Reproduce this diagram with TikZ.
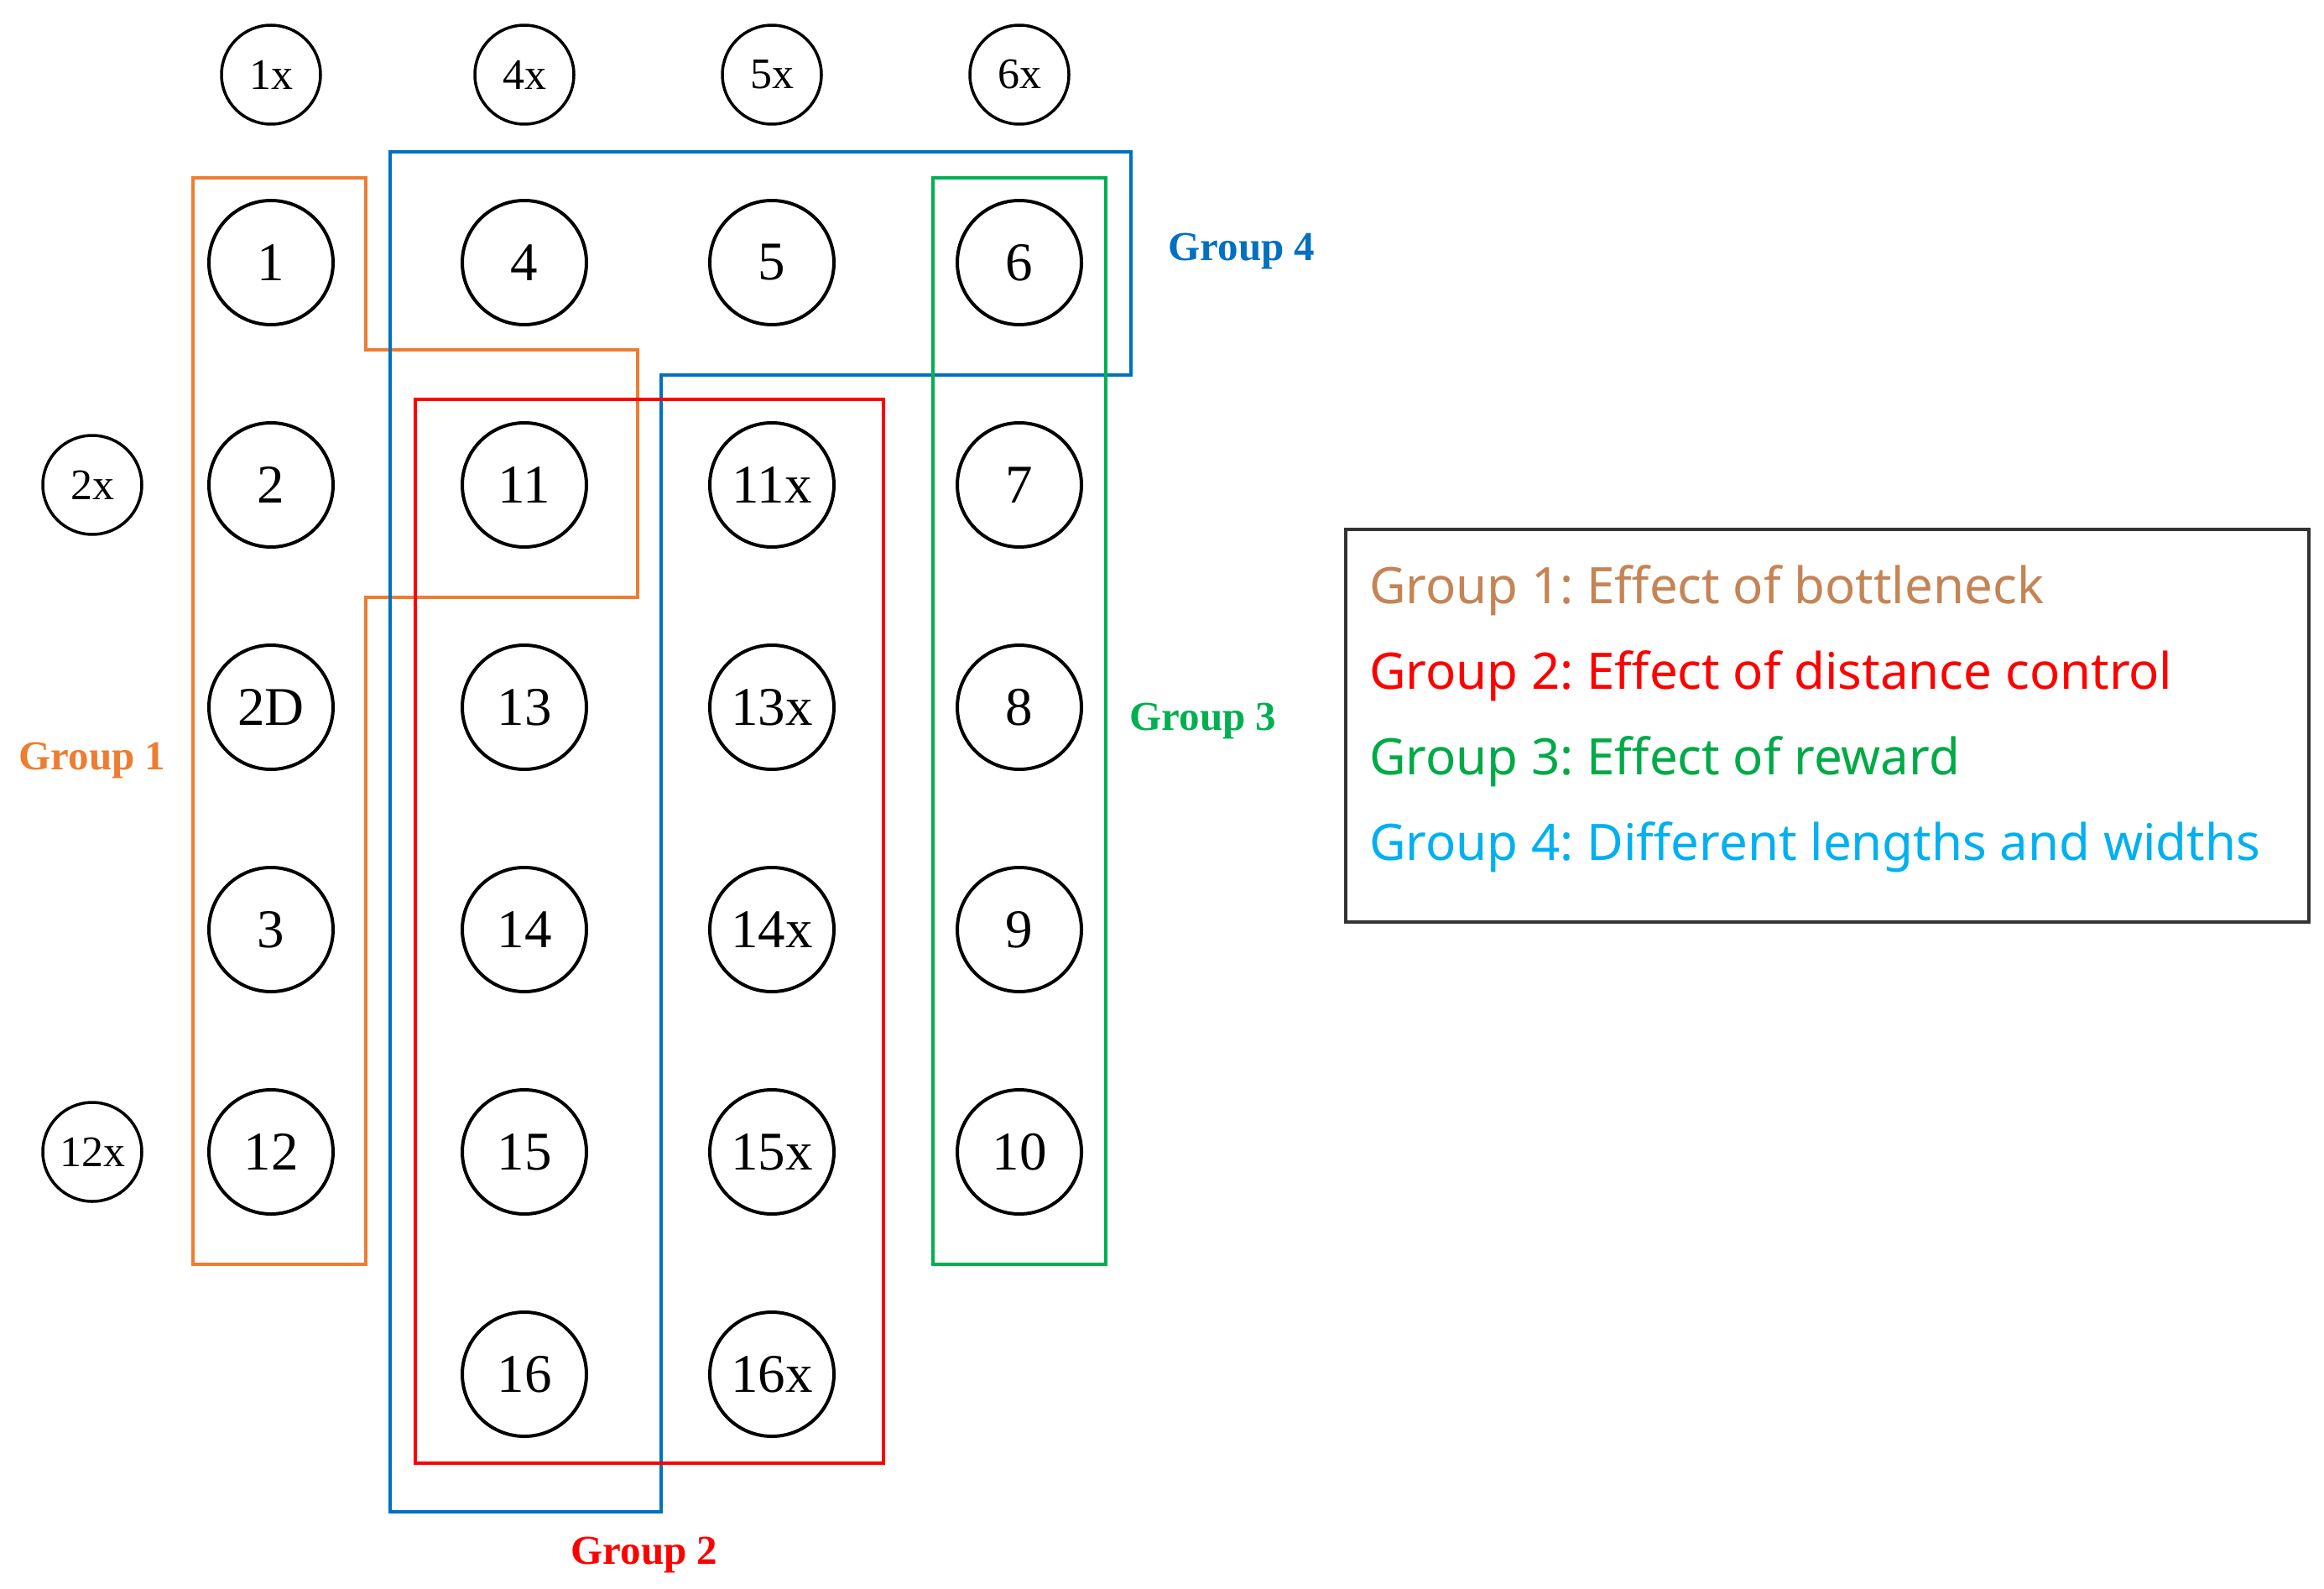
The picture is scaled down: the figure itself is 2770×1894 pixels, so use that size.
\documentclass[tikz,border=0pt]{standalone}
\usepackage{fontspec}
\setmainfont{Liberation Serif}
\newfontfamily\legfont{Noto Sans}
\frenchspacing
\definecolor{gorange}{RGB}{237,125,49}
\definecolor{gblue}{RGB}{0,112,192}
\definecolor{gred}{RGB}{255,0,0}
\definecolor{ggreen}{RGB}{0,176,80}
\definecolor{lbrown}{RGB}{197,132,85}
\definecolor{lblue}{RGB}{0,176,240}
\definecolor{lgreen}{RGB}{0,170,70}
\tikzset{
  big/.style={circle,draw=black,line width=4pt,minimum size=148pt,inner sep=0pt,font=\fontsize{65}{65}\selectfont},
  small/.style={circle,draw=black,line width=3.5pt,minimum size=118pt,inner sep=0pt,font=\fontsize{52}{52}\selectfont},
  grp/.style={line width=4.5pt,line join=miter},
  glabel/.style={font=\fontsize{49}{49}\selectfont\bfseries,inner sep=0pt},
  legtext/.style={anchor=base west,inner sep=0pt,font=\legfont\fontsize{60}{60}\selectfont}
}
\begin{document}
\begin{tikzpicture}[x=1pt,y=-1pt]
\useasboundingbox (0,0) rectangle (2770,1894);
% group boxes
\draw[grp,gorange] (230,212) -- (436,212) -- (436,417) -- (760,417) -- (760,712) -- (436,712) -- (436,1507) -- (230,1507) -- cycle;
\draw[grp,gblue] (465,181) -- (1348,181) -- (1348,447) -- (788,447) -- (788,1802) -- (465,1802) -- cycle;
\draw[grp,gred] (495,476) rectangle (1053,1744);
\draw[grp,ggreen] (1112,212) rectangle (1318,1507);
% small nodes
\node[small] (n1x) at (323,89) {1x};
\node[small] (n4x) at (625,89) {4x};
\node[small] (n5x) at (920,89) {5x};
\node[small] (n6x) at (1215,89) {6x};
\node[small] (n2x) at (110,578) {2x};
\node[small] (n12x) at (110,1373) {12x};
% column 1
\node[big] (n1) at (323,313) {1};
\node[big] (n2) at (323,578) {2};
\node[big] (n2D) at (323,843) {2D};
\node[big] (n3) at (323,1108) {3};
\node[big] (n12) at (323,1373) {12};
% column 2
\node[big] (n4) at (625,313) {4};
\node[big] (n11) at (625,578) {11};
\node[big] (n13) at (625,843) {13};
\node[big] (n14) at (625,1108) {14};
\node[big] (n15) at (625,1373) {15};
\node[big] (n16) at (625,1638) {16};
% column 3
\node[big] (n5) at (920,313) {5};
\node[big] (n11x) at (920,578) {11x};
\node[big] (n13x) at (920,843) {13x};
\node[big] (n14x) at (920,1108) {14x};
\node[big] (n15x) at (920,1373) {15x};
\node[big] (n16x) at (920,1638) {16x};
% column 4
\node[big] (n6) at (1215,313) {6};
\node[big] (n7) at (1215,578) {7};
\node[big] (n8) at (1215,843) {8};
\node[big] (n9) at (1215,1108) {9};
\node[big] (n10) at (1215,1373) {10};
% group labels
\node[glabel,text=gorange] (g1) at (110,906) {Group 1};
\node[glabel,text=gred] (g2) at (768,1853) {Group 2};
\node[glabel,text=ggreen] (g3) at (1434,859) {Group 3};
\node[glabel,text=gblue] (g4) at (1480,299) {Group 4};
% legend
\draw[line width=4pt,draw=black!80] (1604,631) rectangle (2752,1099);
\node[legtext,text=lbrown] (l1) at (1632,719) {Group 1: Effect of bottleneck};
\node[legtext,text=gred] (l2) at (1632,821) {Group 2: Effect of distance control};
\node[legtext,text=lgreen] (l3) at (1632,923) {Group 3: Effect of reward};
\node[legtext,text=lblue] (l4) at (1632,1025) {Group 4: Different lengths and widths};
\end{tikzpicture}
\end{document}
